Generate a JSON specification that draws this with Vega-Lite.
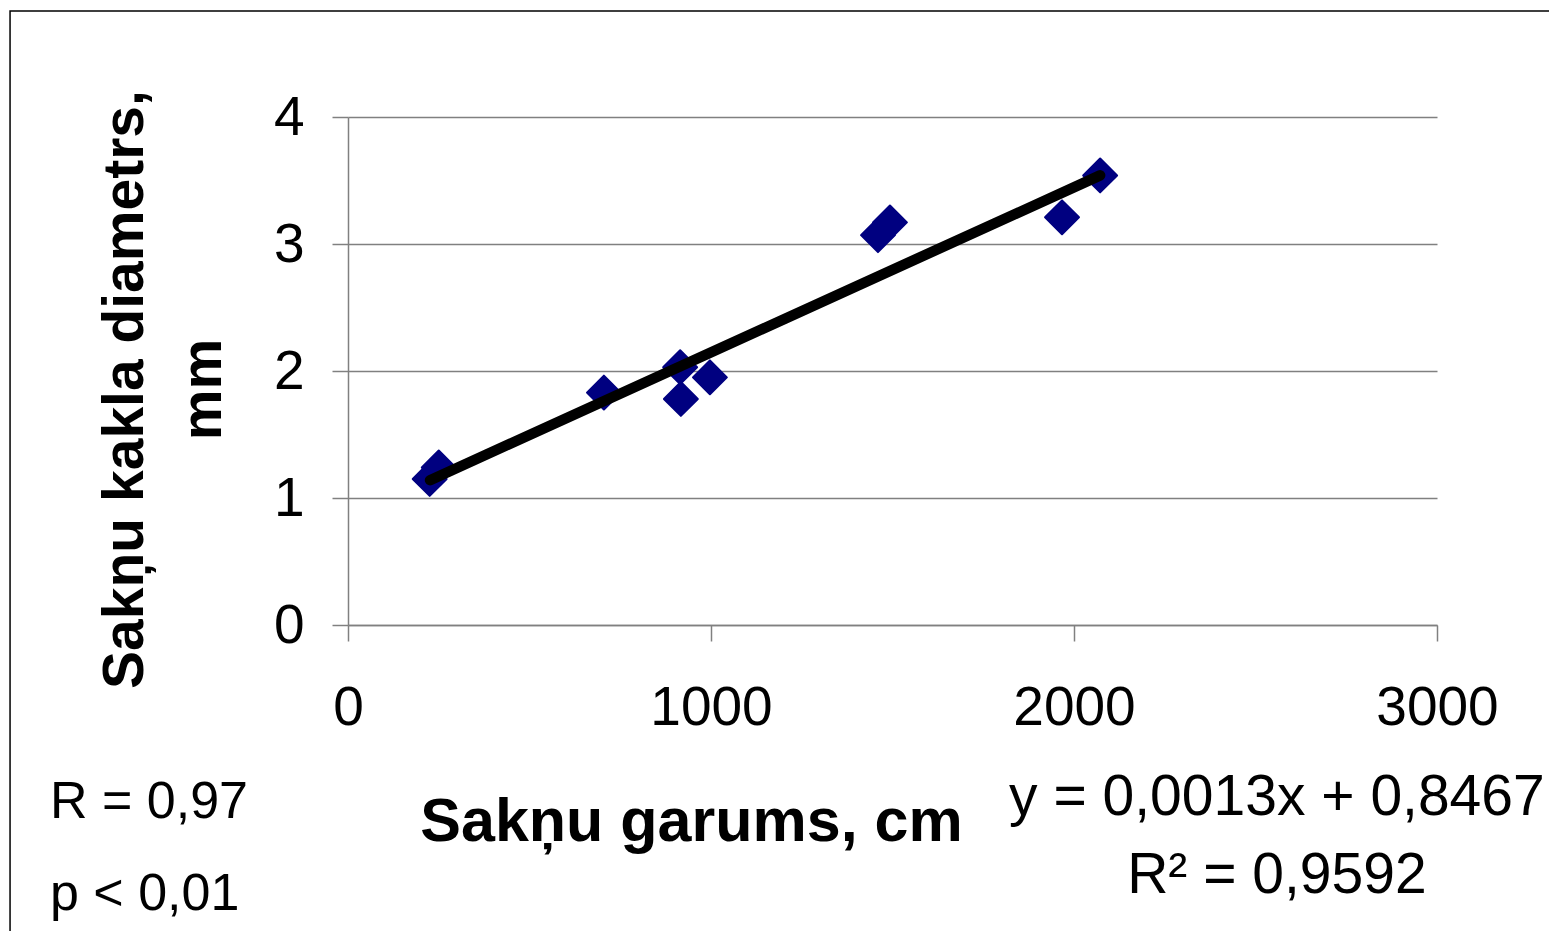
{
  "$schema": "https://vega.github.io/schema/vega-lite/v6.json",
  "width": 1089,
  "height": 508,
  "autosize": {"type": "none"},
  "padding": {"left": 348, "top": 117, "right": 112, "bottom": 306},
  "background": "white",
  "config": {
    "font": "Liberation Sans",
    "view": {"stroke": null},
    "axis": {"labelFont": "Liberation Sans", "titleFont": "Liberation Sans"}
  },
  "encoding": {
    "x": {
      "field": "x",
      "type": "quantitative",
      "scale": {"domain": [0, 3000], "nice": false, "zero": false},
      "axis": {
        "title": "Sakņu garums, cm",
        "values": [0, 1000, 2000, 3000],
        "format": "d",
        "grid": false,
        "domainColor": "#808080",
        "domainWidth": 1.5,
        "tickColor": "#808080",
        "tickWidth": 1.5,
        "tickSize": 16,
        "labelFontSize": 55,
        "labelColor": "black",
        "labelFlush": false,
        "labelOverlap": false,
        "labelBaseline": "alphabetic",
        "labelPadding": 83,
        "titleFontSize": 61,
        "titleFontWeight": "bold",
        "titleColor": "black",
        "titleX": 343,
        "titleY": 215,
        "titleAlign": "center",
        "titleBaseline": "alphabetic"
      }
    },
    "y": {
      "field": "y",
      "type": "quantitative",
      "scale": {"domain": [0, 4], "nice": false, "zero": false},
      "axis": {
        "title": ["Sakņu kakla diametrs,", "mm"],
        "values": [0, 1, 2, 3, 4],
        "grid": true,
        "gridColor": "#808080",
        "gridWidth": 1.5,
        "domainColor": "#808080",
        "domainWidth": 1.5,
        "tickColor": "#808080",
        "tickWidth": 1.5,
        "tickSize": 16,
        "labelFontSize": 55,
        "labelColor": "black",
        "labelFlush": false,
        "labelOverlap": false,
        "labelPadding": 28,
        "titleFontSize": 57,
        "titleFontWeight": "bold",
        "titleColor": "black",
        "titleAngle": -90,
        "titleX": -206,
        "titleY": 272,
        "titleAlign": "center",
        "titleBaseline": "alphabetic",
        "titleLineHeight": 78
      }
    }
  },
  "layer": [
    {
      "data": {"values": [{"x": -931, "x2": 4000, "y": 4.835, "y2": -3}]},
      "mark": {"type": "rect", "fill": null, "stroke": "black", "strokeWidth": 1.5, "clip": false},
      "encoding": {
        "x2": {"field": "x2"},
        "y2": {"field": "y2"}
      }
    },
    {
      "data": {"values": [
        {"x": 225, "y": 1.15},
        {"x": 250, "y": 1.24},
        {"x": 705, "y": 1.83},
        {"x": 915, "y": 2.03},
        {"x": 917, "y": 1.78},
        {"x": 997, "y": 1.95},
        {"x": 1460, "y": 3.07},
        {"x": 1493, "y": 3.17},
        {"x": 1967, "y": 3.21},
        {"x": 2072, "y": 3.54}
      ]},
      "mark": {"type": "point", "shape": "diamond", "filled": true, "size": 1150, "color": "#000080", "opacity": 1, "stroke": "#000080", "strokeWidth": 2, "strokeJoin": "round"}
    },
    {
      "data": {"values": [
        {"x": 226, "y": 1.1405},
        {"x": 2072, "y": 3.5403}
      ]},
      "mark": {"type": "line", "color": "black", "strokeWidth": 10.5, "strokeCap": "round"}
    },
    {
      "data": {"values": [
        {"x": -821, "y": -1.52, "label": "R = 0,97"},
        {"x": -821, "y": -2.244, "label": "p < 0,01"}
      ]},
      "mark": {"type": "text", "align": "left", "baseline": "alphabetic", "fontSize": 52, "color": "black", "clip": false},
      "encoding": {"text": {"field": "label"}}
    },
    {
      "data": {"values": [
        {"x": 2559, "y": -1.496, "label": "y = 0,0013x + 0,8467"},
        {"x": 2559, "y": -2.11, "label": "R² = 0,9592"}
      ]},
      "mark": {"type": "text", "align": "center", "baseline": "alphabetic", "fontSize": 57, "color": "black", "clip": false},
      "encoding": {"text": {"field": "label"}}
    }
  ]
}
